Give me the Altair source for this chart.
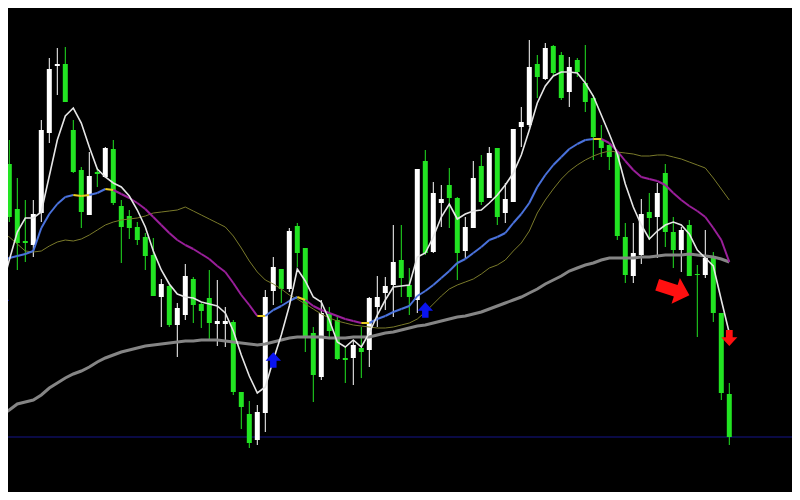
import altair as alt
import pandas as pd

# ---- candle data (price levels) ----
opens = [277, 336, 291, 259, 255, 287, 367, 434, 436, 370,
         330, 285, 328, 323, 351, 294, 284, 273, 263, 245,
         203, 214, 175, 185, 221, 196, 202, 176, 176, 178,
         108, 86, 60, 87, 209, 231, 211, 274, 252, 167,
         123, 186, 180, 142, 142, 152, 150, 193, 207, 215,
         240, 215, 200, 339, 248, 297, 315, 302, 249, 272,
         334, 302, 352, 287, 298, 373, 375, 436, 421, 454,
         445, 408, 440, 417, 402, 360, 355, 348, 263, 224,
         245, 288, 283, 327, 268, 250, 275, 226, 225, 242,
         187, 106]
highs = [342, 360, 322, 300, 300, 380, 442, 452, 453, 380,
         333, 348, 332, 353, 360, 300, 290, 278, 267, 262,
         221, 215, 197, 236, 223, 197, 230, 220, 193, 180,
         108, 99, 95, 210, 243, 231, 272, 277, 252, 173,
         200, 193, 185, 153, 160, 173, 203, 224, 223, 275,
         275, 232, 331, 350, 318, 315, 332, 303, 283, 339,
         345, 353, 352, 317, 371, 393, 460, 445, 457, 455,
         448, 443, 442, 455, 405, 375, 357, 348, 277, 277,
         301, 307, 317, 336, 283, 273, 280, 235, 270, 248,
         187, 117]
lows = [255, 278, 230, 238, 243, 278, 357, 405, 398, 327,
        272, 285, 313, 322, 295, 237, 261, 255, 230, 204,
        173, 173, 143, 180, 177, 172, 161, 154, 153, 105,
        71, 52, 55, 68, 195, 197, 208, 233, 148, 98,
        120, 163, 140, 117, 115, 122, 133, 173, 190, 183,
        203, 185, 187, 245, 247, 273, 272, 220, 242, 272,
        295, 302, 275, 277, 298, 353, 373, 402, 420, 424,
        400, 393, 423, 388, 340, 343, 330, 260, 217, 217,
        236, 260, 242, 253, 232, 228, 224, 163, 222, 178,
        100, 55]
closes = [333, 283, 257, 257, 286, 370, 431, 436, 398, 328,
          288, 324, 326, 352, 297, 273, 272, 260, 244, 204,
          216, 175, 192, 224, 195, 189, 177, 179, 179, 108,
          93, 57, 88, 203, 233, 211, 269, 247, 164, 125,
          187, 169, 141, 140, 155, 148, 202, 203, 214, 238,
          222, 203, 331, 247, 307, 301, 302, 247, 273, 322,
          298, 347, 283, 301, 371, 378, 433, 423, 452, 427,
          402, 433, 428, 398, 363, 352, 343, 264, 225, 247,
          286, 282, 307, 268, 250, 270, 224, 225, 242, 187,
          107, 63]

# ---- moving averages (read per candle) ----
ma_fast = [210, 240, 268, 282, 282, 288, 324, 360, 384, 392,
           377, 353, 331, 323, 317, 313, 304, 290, 273, 249,
           230, 216, 206, 203, 202, 198, 196, 194, 187, 169,
           145, 124, 107, 113, 140, 165, 194, 231, 219, 203,
           198, 180, 158, 153, 160, 153, 167, 185, 200, 213,
           214, 215, 243, 247, 263, 283, 296, 281, 286, 289,
           290, 297, 305, 315, 327, 345, 370, 397, 414, 424,
           428, 428, 427, 417, 404, 385, 366, 346, 316, 293,
           275, 261, 269, 275, 278, 275, 266, 250, 242, 234,
           200, 167]
ma_mid = [238, 242, 244, 246, 249, 272, 286, 296, 303, 305,
          304, 305, 307, 311, 310, 306, 302, 297, 291, 283,
          275, 267, 260, 255, 251, 246, 241, 234, 228, 217,
          205, 195, 184, 184, 190, 194, 199, 203, 200, 194,
          190, 187, 184, 181, 179, 177, 177, 181, 184, 188,
          191, 194, 204, 209, 215, 222, 229, 237, 241, 247,
          253, 260, 263, 267, 277, 286, 297, 313, 325, 335,
          343, 351, 356, 360, 361, 361, 357, 349, 339, 330,
          323, 321, 319, 315, 307, 300, 294, 289, 283, 272,
          260, 238]
ma_mid_state = ("UUUUUUUUUU" + "FF" + "UU" + "F" + "DDDDDDDDDDDDDDDDDD" + "F"
                + "UUUU" + "F" + "DDDDDDD" + "F"
                + "UUUUUUUUUUUUUUUUUUUUUUUUUUUU" + "F" + "DDDDDDDDDDDDDDDD")
ma_slow = [267, 263, 256, 249, 248, 249, 254, 258, 260, 259,
           261, 265, 270, 275, 278, 280, 281, 282, 284, 287,
           288, 289, 290, 293, 289, 285, 281, 277, 273, 264,
           252, 239, 228, 220, 216, 211, 205, 201, 196, 191,
           186, 182, 179, 177, 175, 174, 173, 172, 172, 173,
           175, 177, 181, 188, 196, 204, 211, 215, 218, 221,
           226, 232, 235, 240, 249, 257, 269, 287, 300, 311,
           321, 329, 335, 340, 344, 347, 349, 348, 347, 346,
           344, 344, 345, 345, 343, 341, 338, 335, 332, 322,
           311, 300]
ma_long = [84, 90, 96, 98, 100, 105, 112, 117, 122, 126,
           129, 133, 138, 142, 145, 148, 150, 152, 154, 155,
           156, 157, 158, 159, 159, 160, 160, 160, 159, 158,
           157, 156, 155, 156, 158, 160, 162, 163, 163, 163,
           163, 162, 162, 162, 163, 163, 163, 165, 167, 168,
           170, 172, 174, 175, 177, 179, 181, 183, 184, 186,
           188, 191, 194, 197, 200, 203, 207, 211, 216, 220,
           224, 229, 232, 235, 237, 240, 242, 242, 242, 242,
           243, 243, 244, 245, 245, 245, 246, 245, 244, 243,
           241, 238]

support_level = [63]

buy_arrow_bars = [0, 34, 53]
buy_arrow_levels = [200, 140, 190]
sell_arrow_bars = [91]
sell_arrow_levels = [162]
signal_arrow_bars = [84]
signal_arrow_levels = [210]

# ---- tables ----
n = len(opens)
bar_idx = list(range(n))
candles = pd.DataFrame({"bar": bar_idx, "open": opens, "high": highs,
                        "low": lows, "close": closes})
candles["dir"] = ["up" if c >= o else "down" for o, c in zip(opens, closes)]

fast_df = pd.DataFrame({"bar": bar_idx, "v": ma_fast})
slow_df = pd.DataFrame({"bar": bar_idx, "v": ma_slow})
long_df = pd.DataFrame({"bar": bar_idx, "v": ma_long})

seg_rows = []
for j in range(n - 1):
    st = ma_mid_state[j + 1]
    seg_rows.append({"bar": j, "v": ma_mid[j], "seg": j, "state": st})
    seg_rows.append({"bar": j + 1, "v": ma_mid[j + 1], "seg": j, "state": st})
mid_df = pd.DataFrame(seg_rows)

buy_df = pd.DataFrame({"bar": buy_arrow_bars, "v": buy_arrow_levels})
sell_df = pd.DataFrame({"bar": sell_arrow_bars, "v": sell_arrow_levels})
sig_df = pd.DataFrame({"bar": signal_arrow_bars, "v": signal_arrow_levels})
sup_df = pd.DataFrame({"level": support_level})

xs = alt.Scale(domain=[0.8375, 98.8375], nice=False, zero=False, padding=0)
ys = alt.Scale(domain=[8, 492], nice=False, zero=False, padding=0)


def X(f):
    return alt.X(f, scale=xs, axis=None)


def Y(f):
    return alt.Y(f, scale=ys, axis=None)


ccol = alt.Color("dir:N", scale=alt.Scale(domain=["up", "down"],
                                          range=["#ffffff", "#22e422"]),
                 legend=None)

support = alt.Chart(sup_df).mark_rule(color="#15158a", strokeWidth=1).encode(
    y=Y("level:Q"))

wicks = alt.Chart(candles).mark_rule(strokeWidth=1).encode(
    x=X("bar:Q"), y=Y("low:Q"), y2="high:Q", color=ccol)

bodies = alt.Chart(candles).mark_bar(size=5, strokeWidth=0).encode(
    x=X("bar:Q"), y=Y("open:Q"), y2="close:Q", color=ccol)

long_line = alt.Chart(long_df).mark_line(color="#858585", strokeWidth=3).encode(
    x=X("bar:Q"), y=Y("v:Q"))
slow_line = alt.Chart(slow_df).mark_line(color="#7a7a2a", strokeWidth=1).encode(
    x=X("bar:Q"), y=Y("v:Q"))
mid_line = alt.Chart(mid_df).mark_line(strokeWidth=2).encode(
    x=X("bar:Q"), y=Y("v:Q"), detail="seg:N",
    color=alt.Color("state:N", scale=alt.Scale(domain=["U", "F", "D"],
                                               range=["#4a72dc", "#e8cc22", "#9a1f9a"]),
                    legend=None))
fast_line = alt.Chart(fast_df).mark_line(color="#e6e6e6", strokeWidth=1.6).encode(
    x=X("bar:Q"), y=Y("v:Q"))

up_path = "M0,-1 L1,0.1 L0.42,0.1 L0.42,1 L-0.42,1 L-0.42,0.1 L-1,0.1 Z"
down_path = "M0,1 L1,-0.1 L0.42,-0.1 L0.42,-1 L-0.42,-1 L-0.42,-0.1 L-1,-0.1 Z"
right_path = "M1,0 L0.15,-0.8 L0.15,-0.36 L-1,-0.36 L-1,0.36 L0.15,0.36 L0.15,0.8 Z"

buy_pts = alt.Chart(buy_df).mark_point(shape=up_path, filled=True, size=240,
                                       color="#0a14f0", opacity=1, strokeWidth=0).encode(
    x=X("bar:Q"), y=Y("v:Q"))
sell_pts = alt.Chart(sell_df).mark_point(shape=down_path, filled=True, size=260,
                                         color="#ff1010", opacity=1, strokeWidth=0).encode(
    x=X("bar:Q"), y=Y("v:Q"))
sig_pts = alt.Chart(sig_df).mark_point(shape=right_path, filled=True, size=1150, angle=18,
                                       color="#ff1010", opacity=1, strokeWidth=0).encode(
    x=X("bar:Q"), y=Y("v:Q"))

chart = alt.layer(
    support, wicks, bodies, long_line, slow_line, mid_line, fast_line,
    buy_pts, sell_pts, sig_pts
).resolve_scale(
    color="independent"
).properties(
    width=784, height=484, background="#000000", padding=0, autosize="none"
).configure_view(strokeWidth=0)

chart.save("out.html", embed_options={"renderer": "svg", "actions": False})
